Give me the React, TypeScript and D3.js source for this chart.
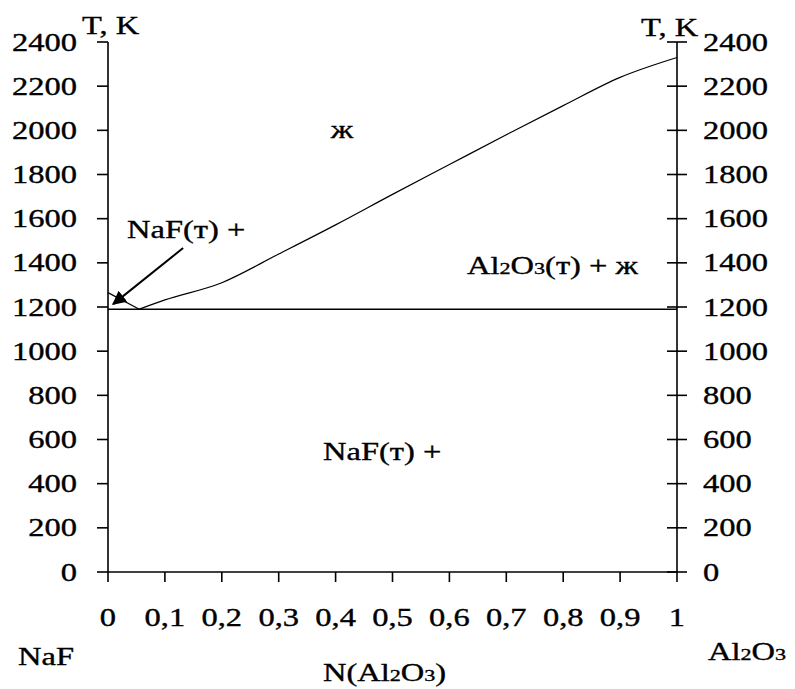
import { useRef, useEffect } from 'react';
import * as d3 from 'd3';

// axis ticks
const yTicks = [0, 200, 400, 600, 800, 1000, 1200, 1400, 1600, 1800, 2000, 2200, 2400];
const xTicks = [0, 0.1, 0.2, 0.3, 0.4, 0.5, 0.6, 0.7, 0.8, 0.9, 1];
const xTickLabels = ['0', '0,1', '0,2', '0,3', '0,4', '0,5', '0,6', '0,7', '0,8', '0,9', '1'];

// liquidus NaF side
const naFLiqX = [0, 0.055];
const naFLiqT = [1265, 1190];

// liquidus Al2O3 side
const alLiqX = [0.055, 0.1, 0.2, 0.3, 0.4, 0.5, 0.6, 0.7, 0.8, 0.9, 1];
const alLiqT = [1190, 1232, 1310, 1440, 1572, 1710, 1845, 1980, 2112, 2240, 2330];

// eutectic line
const eutecticT = 1190;

const FONT = '"Liberation Serif", "Times New Roman", serif';
const FS = 25;
const SX = 1.3;

export default function App() {
  const svgRef = useRef<SVGSVGElement>(null);

  useEffect(() => {
    const width = 795;
    const height = 689;
    const left = 108, right = 677, top = 42, bottom = 572;

    const svg = d3.select(svgRef.current);
    svg.selectAll('*').remove();
    svg.attr('viewBox', `0 0 ${width} ${height}`);

    svg.append('defs').append('marker')
      .attr('id', 'arrowhead')
      .attr('viewBox', '0 0 10 10')
      .attr('refX', 9)
      .attr('refY', 5)
      .attr('markerWidth', 7)
      .attr('markerHeight', 7)
      .attr('markerUnits', 'strokeWidth')
      .attr('orient', 'auto')
      .append('path')
      .attr('d', 'M0,0 L10,5 L0,10 z')
      .attr('fill', '#000');

    const x = d3.scaleLinear().domain([0, 1]).range([left, right]);
    const y = d3.scaleLinear().domain([0, 2400]).range([bottom, top]);

    const label = (px, py, txt, anchor = 'start', parts = null) => {
      const t = svg.append('text')
        .attr('transform', `translate(${px},${py}) scale(${SX},1)`)
        .attr('text-anchor', anchor)
        .attr('font-family', FONT)
        .attr('font-size', FS)
        .attr('fill', '#000')
        .attr('stroke', '#000')
        .attr('stroke-width', 0.35);
      if (parts) {
        parts.forEach(p => {
          t.append('tspan')
            .attr('font-size', p.sub ? FS * 0.68 : FS)
            .text(p.t);
        });
      } else {
        t.text(txt);
      }
      return t;
    };

    const axis = svg.append('g')
      .attr('stroke', '#000')
      .attr('stroke-width', 1.6)
      .attr('fill', 'none');

    // left axis
    axis.append('line').attr('x1', left).attr('x2', left).attr('y1', top).attr('y2', bottom);
    yTicks.forEach(v => {
      axis.append('line').attr('x1', left - 11).attr('x2', left).attr('y1', y(v)).attr('y2', y(v));
      label(left - 31, y(v) + 8.5, String(v), 'end');
    });

    // right axis
    axis.append('line').attr('x1', right).attr('x2', right).attr('y1', top).attr('y2', bottom);
    yTicks.forEach(v => {
      axis.append('line').attr('x1', right - 10).attr('x2', right + 10).attr('y1', y(v)).attr('y2', y(v));
      label(right + 26, y(v) + 8.5, String(v), 'start');
    });

    // bottom axis
    axis.append('line').attr('x1', left).attr('x2', right).attr('y1', bottom).attr('y2', bottom);
    xTicks.forEach((v, i) => {
      axis.append('line').attr('x1', x(v)).attr('x2', x(v)).attr('y1', bottom).attr('y2', bottom + 10);
      label(x(v), bottom + 54, xTickLabels[i], 'middle');
    });

    // eutectic
    svg.append('line')
      .attr('x1', x(0)).attr('x2', x(1))
      .attr('y1', y(eutecticT)).attr('y2', y(eutecticT))
      .attr('stroke', '#000').attr('stroke-width', 1.6);

    const line = d3.line<[number, number]>()
      .x(d => x(d[0]))
      .y(d => y(d[1]))
      .curve(d3.curveMonotoneX);

    svg.append('path')
      .attr('d', line(naFLiqX.map((v, i) => [v, naFLiqT[i]])))
      .attr('fill', 'none').attr('stroke', '#000').attr('stroke-width', 1.2);

    svg.append('path')
      .attr('d', line(alLiqX.map((v, i) => [v, alLiqT[i]])))
      .attr('fill', 'none').attr('stroke', '#000').attr('stroke-width', 1.2);

    // arrow
    svg.append('line')
      .attr('x1', x(0.132)).attr('y1', y(1467))
      .attr('x2', x(0.009)).attr('y2', y(1213))
      .attr('stroke', '#000').attr('stroke-width', 2)
      .attr('marker-end', 'url(#arrowhead)');

    // axis titles
    label(82, 34, 'T, K');
    label(641, 36, 'T, K');

    // region labels
    label(x(0.411), y(1965), 'ж', 'middle');
    label(127, 238, 'NaF(т) +');
    label(323, 460, 'NaF(т) +');
    label(467, 274, '', 'start', [
      { t: 'Al' }, { t: '2', sub: true }, { t: 'O' }, { t: '3', sub: true }, { t: '(т) + ж' },
    ]);

    // bottom labels
    label(18, 665, 'NaF');
    label(323, 681, '', 'start', [
      { t: 'N(Al' }, { t: '2', sub: true }, { t: 'O' }, { t: '3', sub: true }, { t: ')' },
    ]);
    label(708, 660, '', 'start', [
      { t: 'Al' }, { t: '2', sub: true }, { t: 'O' }, { t: '3', sub: true },
    ]);
  }, []);

  return (
    <div style={{ position: 'absolute', left: 0, top: 0, width: 795, height: 689, background: '#fff' }}>
      <svg ref={svgRef} width={795} height={689} style={{ display: 'block' }}></svg>
    </div>
  );
}
